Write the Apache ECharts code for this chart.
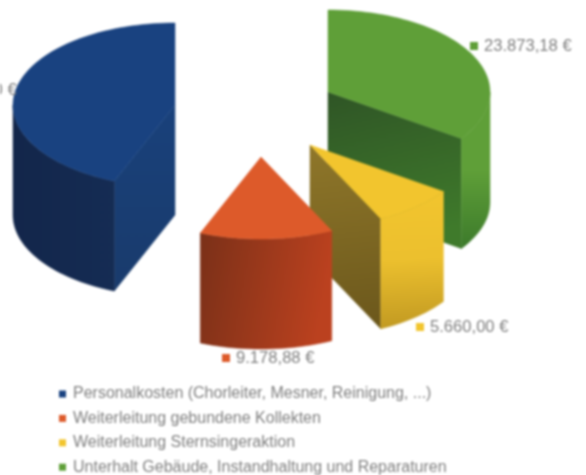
<!DOCTYPE html>
<html>
<head>
<meta charset="utf-8">
<style>
html,body{margin:0;padding:0;background:#fff;overflow:hidden}
#c{width:586px;height:475px;filter:blur(0.8px)}
</style>
<script src="https://cdn.jsdelivr.net/npm/echarts@6/dist/echarts.min.js"></script>
</head>
<body>
<div id="c"></div>
<script>
// Data (legend order; the pie runs anticlockwise from 12 o'clock in this order)
const categories = [
  'Personalkosten (Chorleiter, Mesner, Reinigung, ...)',
  'Weiterleitung gebundene Kollekten',
  'Weiterleitung Sternsingeraktion',
  'Unterhalt Gebäude, Instandhaltung und Reparaturen'
];
const values = [30280.00, 9178.88, 5660.00, 23873.18];

// Appearance
const colors = ['#194280', '#dd5a2a', '#f2c52e', '#5f9f38'];
const lin = (x2, y2, stops) => ({type:'linear',x:0,y:0,x2:x2,y2:y2,colorStops:stops.map((c,k)=>({offset:k/(stops.length-1),color:c}))});
const outerFill = [
  lin(1,0,['#13264a','#152c54']),
  lin(1,0.2,['#7a3018','#bb411f']),
  lin(0.1,1,['#f2c52e','#ecc02e','#c29a22']),
  lin(0,1,['#5f9f38','#5f9f38','#3c7a2b'])
];
const sideFill = [
  lin(0,1,['#19417b','#193b6c']),
  '#a83c20',
  lin(0.3,1,['#8f772a','#6c581c']),
  lin(0.3,1,['#2f5526','#3f7a2b'])
];
// Layout of the exploded slices (px)
const RX = 162, RY = 82, DEPTH = 110;
const centres = [[175,105],[261,157],[310,145],[328,92]];
const labelPos = [[-85,90],[222,358],[416,327],[470,46]];
const zOrder = [4,3,2,1];

const total = values.reduce((a,b)=>a+b,0);
const fmt = v => v.toLocaleString('de-DE',{minimumFractionDigits:2,maximumFractionDigits:2}) + ' €';

function sweepOf(i){
  // angles measured clockwise from 12 o'clock, degrees
  let end = 360;
  for (let k=0;k<i;k++) end -= values[k]/total*360;
  return [end - values[i]/total*360, end];
}

function makeRender(i){
  return function(params, api){
    const v = api.value(0);
    const [a0,a1] = sweepOf(i);
    const [cx,cy] = centres[i];
    const P = (deg,d) => [cx+RX*Math.sin(deg*Math.PI/180), cy-RY*Math.cos(deg*Math.PI/180)+(d||0)];
    const arc = (from,to,d) => {
      const n = Math.max(2,Math.ceil(Math.abs(to-from)/2)), pts=[];
      for(let k=0;k<=n;k++) pts.push(P(from+(to-from)*k/n,d));
      return pts;
    };
    const kids = [];
    const poly = (points,fill) => kids.push({type:'polygon',shape:{points},style:{fill,stroke:fill,lineWidth:0.5}});
    // flat side faces that look toward the viewer
    const apex=[cx,cy], apexB=[cx,cy+DEPTH];
    if (Math.cos((a1+90)*Math.PI/180) < -0.001) poly([apex,P(a1),P(a1,DEPTH),apexB], sideFill[i]);
    if (Math.cos((a0-90)*Math.PI/180) < -0.001) poly([apex,P(a0),P(a0,DEPTH),apexB], sideFill[i]);
    // curved outer wall
    const f = Math.max(a0,90), t = Math.min(a1,270);
    if (t>f) poly(arc(f,t,0).concat(arc(t,f,DEPTH)), outerFill[i]);
    // top face
    poly([apex].concat(arc(a0,a1,0)), colors[i]);
    // value label
    const [lx,ly] = labelPos[i];
    kids.push({type:'rect',shape:{x:lx,y:ly-4,width:8,height:8},style:{fill:colors[i]}});
    kids.push({type:'text',x:lx+14,y:ly,style:{text:fmt(v),fill:'#808080',font:'16.6px "Liberation Sans"',verticalAlign:'middle'}});
    return {type:'group',children:kids};
  };
}

const chart = echarts.init(document.getElementById('c'),null,{renderer:'canvas'});
chart.setOption({
  backgroundColor:'#fff',
  animation:false,
  legend:{
    orient:'vertical',left:59,top:386,width:500,height:200,itemWidth:7,itemHeight:7,itemGap:8.4,icon:'rect',
    selectedMode:false,padding:0,
    data:categories,
    textStyle:{color:'#808080',fontFamily:'Liberation Sans',fontSize:16,padding:[0,0,0,2]}
  },
  series:categories.map((name,i)=>({
    type:'custom',name,coordinateSystem:'none',z:zOrder[i],silent:true,
    itemStyle:{color:colors[i]},
    renderItem:makeRender(i),
    data:[[values[i]]]
  }))
});
</script>
</body>
</html>
